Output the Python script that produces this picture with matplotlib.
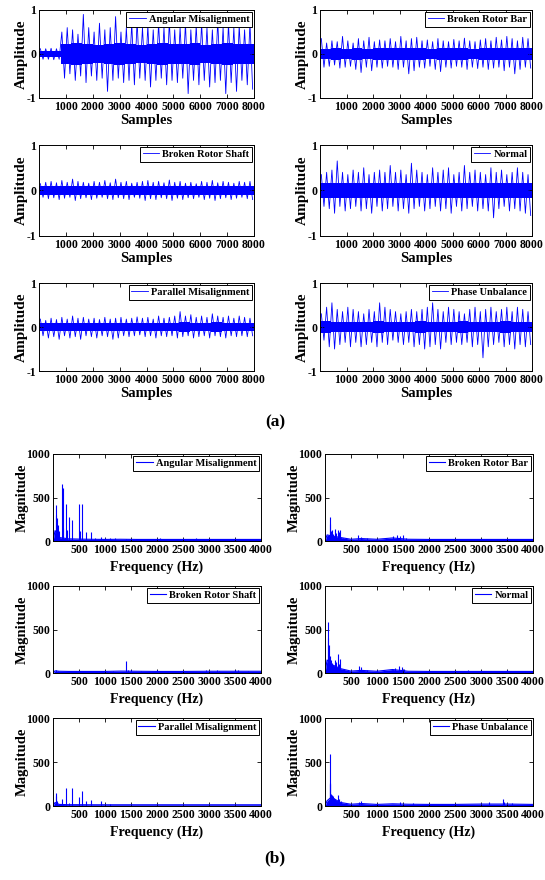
import matplotlib
matplotlib.use('Agg')
import matplotlib.pyplot as plt
import numpy as np

plt.rcParams['font.family'] = ['Liberation Serif', 'DejaVu Serif']
plt.rcParams['font.weight'] = 'bold'
plt.rcParams['axes.unicode_minus'] = False

W, H = 545, 880

names = ['Angular Misalignment', 'Broken Rotor Bar', 'Broken Rotor Shaft',
         'Normal', 'Parallel Misalignment', 'Phase Unbalance']

# ---- time signals (a): dense core band per 400 samples, then peaks/troughs
core_edges = np.arange(0, 8001, 400)
up_x = np.arange(50, 8000, 200)
down_x = np.arange(150, 8000, 200)

core_ang = [0.07, 0.07, 0.22, 0.24, 0.22, 0.2, 0.22, 0.24, 0.22, 0.2,
            0.22, 0.24, 0.22, 0.22, 0.24, 0.2, 0.22, 0.24, 0.22, 0.22]
up_ang = [0.12, 0.12, 0.13, 0.12, 0.5, 0.6, 0.55, 0.45, 0.9, 0.6,
          0.5, 0.7, 0.55, 0.6, 0.85, 0.5, 0.6, 0.7, 0.75, 0.6,
          0.65, 0.55, 0.7, 0.6, 0.75, 0.55, 0.6, 0.7, 0.55, 0.65,
          0.7, 0.6, 0.55, 0.75, 0.6, 0.7, 0.6, 0.65, 0.55, 0.7]
down_ang = [-0.12, -0.12, -0.13, -0.12, -0.55, -0.45, -0.6, -0.5, -0.65, -0.5,
            -0.6, -0.55, -0.85, -0.6, -0.55, -0.65, -0.6, -0.7, -0.55, -0.6,
            -0.75, -0.6, -0.55, -0.7, -0.6, -0.65, -0.55, -0.9, -0.6, -0.7,
            -0.6, -0.75, -0.65, -0.6, -0.9, -0.65, -0.85, -0.6, -0.7, -0.8]

core_bar = [0.12, 0.13, 0.12, 0.13, 0.12, 0.14, 0.13, 0.14, 0.14, 0.13,
            0.12, 0.14, 0.13, 0.13, 0.12, 0.13, 0.14, 0.13, 0.14, 0.13]
up_bar = [0.35, 0.25, 0.3, 0.28, 0.4, 0.3, 0.25, 0.35, 0.3, 0.38,
          0.28, 0.32, 0.3, 0.35, 0.28, 0.4, 0.3, 0.35, 0.38, 0.3,
          0.32, 0.28, 0.35, 0.3, 0.28, 0.33, 0.3, 0.36, 0.3, 0.28,
          0.32, 0.35, 0.3, 0.38, 0.32, 0.4, 0.35, 0.3, 0.38, 0.35]
down_bar = [-0.3, -0.28, -0.25, -0.32, -0.3, -0.28, -0.35, -0.42, -0.3, -0.38,
            -0.3, -0.32, -0.28, -0.3, -0.35, -0.3, -0.45, -0.38, -0.3, -0.32,
            -0.28, -0.35, -0.4, -0.3, -0.32, -0.28, -0.3, -0.35, -0.3, -0.33,
            -0.3, -0.35, -0.32, -0.3, -0.38, -0.3, -0.45, -0.35, -0.3, -0.32]

core_shaft = [0.09, 0.09, 0.1, 0.09, 0.09, 0.1, 0.09, 0.09, 0.1, 0.09,
              0.09, 0.1, 0.09, 0.09, 0.09, 0.1, 0.09, 0.09, 0.1, 0.09]
up_shaft = [0.15, 0.18, 0.2, 0.17, 0.22, 0.18, 0.25, 0.2, 0.18, 0.16,
            0.2, 0.18, 0.22, 0.17, 0.25, 0.18, 0.2, 0.16, 0.18, 0.2,
            0.22, 0.18, 0.2, 0.17, 0.23, 0.18, 0.2, 0.16, 0.18, 0.15,
            0.2, 0.18, 0.22, 0.17, 0.2, 0.18, 0.16, 0.2, 0.18, 0.2]
down_shaft = [-0.15, -0.18, -0.16, -0.2, -0.17, -0.15, -0.22, -0.18, -0.16, -0.2,
              -0.17, -0.15, -0.18, -0.2, -0.16, -0.18, -0.2, -0.15, -0.17, -0.22,
              -0.18, -0.2, -0.16, -0.18, -0.22, -0.17, -0.2, -0.16, -0.18, -0.15,
              -0.2, -0.17, -0.22, -0.18, -0.16, -0.2, -0.17, -0.15, -0.18, -0.2]

core_norm = [0.16, 0.17, 0.16, 0.16, 0.17, 0.16, 0.17, 0.16, 0.17, 0.16,
             0.16, 0.17, 0.16, 0.17, 0.16, 0.16, 0.17, 0.16, 0.17, 0.16]
up_norm = [0.35, 0.4, 0.45, 0.65, 0.4, 0.35, 0.45, 0.4, 0.5, 0.35,
           0.4, 0.45, 0.4, 0.55, 0.4, 0.45, 0.35, 0.6, 0.45, 0.4,
           0.35, 0.5, 0.4, 0.45, 0.5, 0.35, 0.4, 0.55, 0.4, 0.45,
           0.4, 0.35, 0.5, 0.4, 0.45, 0.35, 0.4, 0.5, 0.4, 0.35]
down_norm = [-0.35, -0.4, -0.5, -0.35, -0.45, -0.4, -0.35, -0.45, -0.4, -0.5,
             -0.35, -0.45, -0.4, -0.35, -0.45, -0.4, -0.5, -0.4, -0.35, -0.45,
             -0.4, -0.35, -0.45, -0.4, -0.5, -0.35, -0.45, -0.4, -0.35, -0.45,
             -0.4, -0.45, -0.6, -0.4, -0.35, -0.45, -0.4, -0.45, -0.5, -0.55]

core_par = [0.09, 0.09, 0.09, 0.1, 0.09, 0.09, 0.09, 0.1, 0.09, 0.09,
            0.09, 0.09, 0.1, 0.11, 0.1, 0.09, 0.11, 0.1, 0.09, 0.09]
up_par = [0.18, 0.15, 0.2, 0.17, 0.22, 0.18, 0.25, 0.2, 0.22, 0.18,
          0.2, 0.17, 0.22, 0.18, 0.2, 0.22, 0.18, 0.2, 0.23, 0.2,
          0.22, 0.18, 0.25, 0.2, 0.22, 0.25, 0.35, 0.25, 0.28, 0.22,
          0.25, 0.22, 0.3, 0.25, 0.22, 0.25, 0.2, 0.25, 0.22, 0.2]
down_par = [-0.2, -0.25, -0.22, -0.28, -0.2, -0.25, -0.22, -0.28, -0.2, -0.22,
            -0.25, -0.2, -0.22, -0.28, -0.25, -0.2, -0.22, -0.2, -0.18, -0.22,
            -0.2, -0.25, -0.2, -0.22, -0.2, -0.25, -0.22, -0.2, -0.25, -0.22,
            -0.2, -0.25, -0.2, -0.22, -0.25, -0.2, -0.22, -0.2, -0.22, -0.2]

core_phase = [0.13, 0.12, 0.12, 0.12, 0.12, 0.13, 0.12, 0.12, 0.12, 0.13,
              0.12, 0.12, 0.12, 0.13, 0.12, 0.12, 0.12, 0.13, 0.12, 0.12]
up_phase = [0.3, 0.45, 0.55, 0.4, 0.35, 0.45, 0.4, 0.35, 0.3, 0.4,
            0.35, 0.55, 0.45, 0.4, 0.35, 0.3, 0.35, 0.4, 0.35, 0.4,
            0.45, 0.55, 0.4, 0.35, 0.45, 0.4, 0.35, 0.3, 0.4, 0.45,
            0.35, 0.4, 0.45, 0.35, 0.4, 0.45, 0.35, 0.45, 0.4, 0.35]
down_phase = [-0.3, -0.45, -0.5, -0.4, -0.35, -0.45, -0.35, -0.45, -0.4, -0.35,
              -0.45, -0.35, -0.4, -0.3, -0.35, -0.4, -0.35, -0.45, -0.4, -0.5,
              -0.45, -0.4, -0.5, -0.35, -0.4, -0.35, -0.4, -0.35, -0.45, -0.4,
              -0.7, -0.45, -0.4, -0.35, -0.45, -0.4, -0.5, -0.4, -0.45, -0.4]

# ---- spectra (b): peaks (Hz, magnitude) and a low noise floor
floor_f = [0, 40, 120, 300, 500, 700, 1000, 1300, 1600, 2000, 2500, 3000, 3500, 4000]

pk_f_ang = [50, 60, 75, 90, 110, 175, 185, 200, 250, 260, 300, 370, 500, 510,
            560, 630, 740, 800, 930, 1000, 1100, 1200, 1400, 2050, 2750, 3700, 3900]
pk_m_ang = [410, 300, 260, 180, 120, 660, 610, 150, 420, 130, 280, 240, 430, 120,
            430, 100, 100, 40, 50, 40, 35, 30, 25, 30, 40, 20, 20]
fl_ang = [0, 120, 40, 25, 22, 20, 18, 20, 18, 18, 18, 18, 18, 18]

pk_f_bar = [90, 100, 115, 135, 160, 190, 210, 245, 270, 290, 350, 640, 700, 800,
            1000, 1300, 1380, 1450, 1500, 1550, 3000, 3850]
pk_m_bar = [280, 200, 120, 130, 80, 140, 90, 125, 100, 130, 30, 70, 50, 30,
            25, 55, 70, 60, 65, 30, 25, 20]
fl_bar = [0, 70, 60, 40, 20, 28, 20, 35, 20, 18, 18, 18, 18, 18]

pk_f_shaft = [50, 100, 500, 700, 1150, 1400, 1450, 1500, 1700, 2000, 2100, 2350,
              2950, 3150, 3200, 3500, 3550, 3750]
pk_m_shaft = [35, 20, 20, 25, 25, 135, 40, 30, 25, 30, 25, 25, 30, 30, 25, 30, 30, 20]
fl_shaft = [0, 25, 20, 18, 18, 18, 18, 22, 20, 18, 18, 20, 20, 20]

pk_f_norm = [60, 65, 80, 95, 110, 130, 150, 190, 210, 250, 260, 290, 350, 650, 700,
             800, 1000, 1350, 1420, 1480, 1520, 2000, 2750, 3000, 3200, 3500]
pk_m_norm = [590, 400, 320, 200, 150, 120, 90, 150, 130, 220, 100, 160, 40, 80, 70,
             30, 30, 60, 80, 70, 50, 25, 30, 25, 20, 30]
fl_norm = [0, 150, 100, 50, 22, 30, 20, 40, 20, 18, 18, 18, 18, 18]

pk_f_par = [50, 60, 70, 180, 250, 300, 367, 500, 560, 630, 740, 930, 1100]
pk_m_par = [145, 110, 60, 75, 210, 30, 210, 100, 175, 55, 65, 55, 20]
fl_par = [0, 40, 18, 15, 15, 14, 14, 14, 14, 14, 14, 14, 14, 14]

pk_f_phase = [90, 95, 100, 110, 130, 150, 170, 200, 245, 260, 300, 650, 700,
              1450, 1700, 3150, 3420, 3450, 3600]
pk_m_phase = [260, 590, 250, 140, 130, 110, 90, 70, 125, 80, 60, 50, 55,
              40, 30, 50, 75, 50, 30]
fl_phase = [0, 60, 100, 40, 20, 28, 18, 25, 20, 18, 18, 22, 22, 18]

time_data = [(core_ang, up_ang, down_ang), (core_bar, up_bar, down_bar),
             (core_shaft, up_shaft, down_shaft), (core_norm, up_norm, down_norm),
             (core_par, up_par, down_par), (core_phase, up_phase, down_phase)]
spec_data = [(pk_f_ang, pk_m_ang, fl_ang), (pk_f_bar, pk_m_bar, fl_bar),
             (pk_f_shaft, pk_m_shaft, fl_shaft), (pk_f_norm, pk_m_norm, fl_norm),
             (pk_f_par, pk_m_par, fl_par), (pk_f_phase, pk_m_phase, fl_phase)]

BLUE = '#0000ff'

fig = plt.figure(figsize=(W / 100, H / 100), dpi=100)


def add_ax(l, t, r, b):
    return fig.add_axes([l / W, 1 - b / H, (r - l) / W, (b - t) / H])


def style(ax):
    ax.tick_params(direction='in', top=True, right=True, length=3, width=0.6,
                   labelsize=8.5, pad=2)
    for s in ax.spines.values():
        s.set_linewidth(0.7)
    ax.legend(loc='upper right', fancybox=False, edgecolor='black', framealpha=1,
              borderpad=0.25, borderaxespad=0.2, handlelength=1.6, handletextpad=0.3,
              prop={'weight': 'bold', 'size': 7.5})
    ax.get_legend().get_frame().set_linewidth(0.7)


time_cols = [(39, 254), (320, 532)]
time_rows = [(10, 98), (145, 236), (283, 371)]
for i, name in enumerate(names):
    l, r = time_cols[i % 2]
    t, b = time_rows[i // 2]
    ax = add_ax(l, t, r, b)
    core, up, down = time_data[i]
    c = np.r_[core, core[-1]]
    ax.fill_between(core_edges, c, -c, step='post', color=BLUE, lw=0)
    # peaks and troughs joined in sample order
    x = np.empty(80)
    y = np.empty(80)
    x[0::2], x[1::2] = up_x, down_x
    y[0::2], y[1::2] = up, down
    ax.plot(x, y, color=BLUE, lw=0.6, label=name)
    ax.set_xlim(0, 8000)
    ax.set_ylim(-1, 1)
    ax.set_xticks(range(1000, 8001, 1000))
    ax.set_yticks([-1, 0, 1])
    ax.set_xlabel('Samples', fontsize=10.5, fontweight='bold')
    ax.set_ylabel('Amplitude', fontsize=11, fontweight='bold')
    ax.xaxis.set_label_coords(0.5, -0.18)
    ax.yaxis.set_label_coords(-11 / (r - l), 0.5)
    style(ax)

spec_cols = [(53, 261), (325, 533)]
spec_rows = [(454, 541), (586, 673), (718, 806)]
for i, name in enumerate(names):
    l, r = spec_cols[i % 2]
    t, b = spec_rows[i // 2]
    ax = add_ax(l, t, r, b)
    pf, pm, fl = spec_data[i]
    ax.fill_between(floor_f, fl, 0, color=BLUE, lw=0)
    ax.vlines(pf, 0, pm, color=BLUE, lw=0.8)
    ax.plot(floor_f, fl, color=BLUE, lw=0.8, label=name)
    ax.set_xlim(0, 4000)
    ax.set_ylim(0, 1000)
    ax.set_xticks(range(500, 4001, 500))
    ax.set_yticks([0, 500, 1000])
    ax.set_xlabel('Frequency (Hz)', fontsize=10, fontweight='bold')
    ax.set_ylabel('Magnitude', fontsize=10.5, fontweight='bold')
    ax.xaxis.set_label_coords(0.5, -0.22)
    ax.yaxis.set_label_coords(-24 / (r - l), 0.5)
    style(ax)

fig.text(275 / W, 1 - 422 / H, '(a)', ha='center', va='center', fontsize=12.5, fontweight='bold')
fig.text(275 / W, 1 - 858 / H, '(b)', ha='center', va='center', fontsize=12.5, fontweight='bold')

fig.savefig('out.png', dpi=100)
